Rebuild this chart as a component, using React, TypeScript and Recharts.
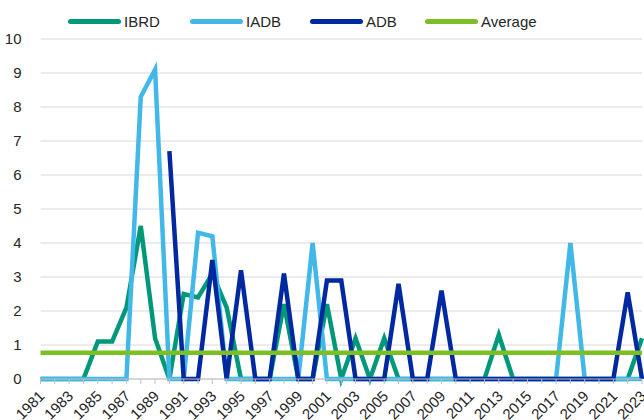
import React from "react";
import { LineChart, Line, XAxis, YAxis, CartesianGrid } from "recharts";

const years: number[] = [];
for (let y = 1981; y <= 2023; y++) years.push(y);

// values, 1981..2023
const ibrd = [
  0, 0, 0, 0, 1.1, 1.1, 2.1, 4.5, 1.2, 0,
  2.5, 2.4, 3.1, 2.1, 0, 0, 0, 2.2, 0, 0,
  2.2, 0, 1.2, 0, 1.2, 0, 0, 0, 0, 0,
  0, 0, 1.3, 0, 0, 0, 0, 0, 0, 0,
  0, 0, 1.2,
];
const iadb = [
  0, 0, 0, 0, 0, 0, 0, 8.3, 9.1, 0,
  0, 4.3, 4.2, 0, 0, 0, 0, 0, 0, 4.0,
  0, 0, 0, 0, 0, 0, 0, 0, 0, 0,
  0, 0, 0, 0, 0, 0, 0, 4.0, 0, 0,
  0, 0, 0,
];
const adb: (number | null)[] = [
  null, null, null, null, null, null, null, null, null, 6.7,
  0, 0, 3.5, 0, 3.2, 0, 0, 3.1, 0, 0,
  2.9, 2.9, 0, 0, 0, 2.8, 0, 0, 2.6, 0,
  0, 0, 0, 0, 0, 0, 0, 0, 0, 0,
  0, 2.55, 0,
];
const average = 0.77;
const yTicks = [0, 1, 2, 3, 4, 5, 6, 7, 8, 9, 10];

const data = years.map((year, i) => ({
  year,
  IBRD: ibrd[i],
  IADB: iadb[i],
  ADB: adb[i],
  Average: average,
}));

const series = [
  { key: "IBRD", color: "#00987A", legendX: 68 },
  { key: "IADB", color: "#42B8E8", legendX: 190 },
  { key: "ADB", color: "#0028A0", legendX: 310 },
  { key: "Average", color: "#7BBF24", legendX: 425 },
];

const font = "'Liberation Sans', Arial, sans-serif";

function YearTick(props: any) {
  const { x, y, payload } = props;
  if (payload.value % 2 === 0) return null;
  return (
    <text
      x={0}
      y={0}
      transform={`translate(${x + 5},${y + 11}) rotate(-45)`}
      textAnchor="end"
      fontSize={15}
      fill="#262626"
      fontFamily={font}
    >
      {payload.value}
    </text>
  );
}

function Legend() {
  return (
    <div style={{ fontFamily: font, fontSize: 15, color: "#262626" }}>
      {series.map((s) => (
        <div
          key={s.key}
          style={{
            position: "absolute",
            left: s.legendX,
            top: 11,
            height: 20,
            display: "flex",
            alignItems: "center",
          }}
        >
          <div
            style={{
              width: 53,
              height: 5,
              borderRadius: 3,
              background: s.color,
              marginRight: 3,
            }}
          />
          <span>{s.key}</span>
        </div>
      ))}
    </div>
  );
}

export default function App() {
  return (
    <div style={{ position: "absolute", left: 0, top: 0, width: 644, height: 420, background: "#fff" }}>
      <Legend />
      <LineChart width={644} height={420} data={data} margin={{ top: 39, right: 2, left: 0, bottom: 0 }}>
        <CartesianGrid vertical={false} stroke="#d9d9d9" />
        <XAxis
          dataKey="year"
          interval={0}
          tick={<YearTick />}
          tickSize={5}
          stroke="#bfbfbf"
          height={41}
        />
        <YAxis
          domain={[0, 10]}
          ticks={yTicks}
          width={40.5}
          axisLine={false}
          tickLine={false}
          tickMargin={13}
          tick={{ fontSize: 15, fill: "#262626", fontFamily: font }}
        />
        {series.map((s) => (
          <Line
            key={s.key}
            type="linear"
            dataKey={s.key}
            stroke={s.color}
            strokeWidth={4.5}
            dot={false}
            activeDot={false}
            isAnimationActive={false}
          />
        ))}
      </LineChart>
    </div>
  );
}
